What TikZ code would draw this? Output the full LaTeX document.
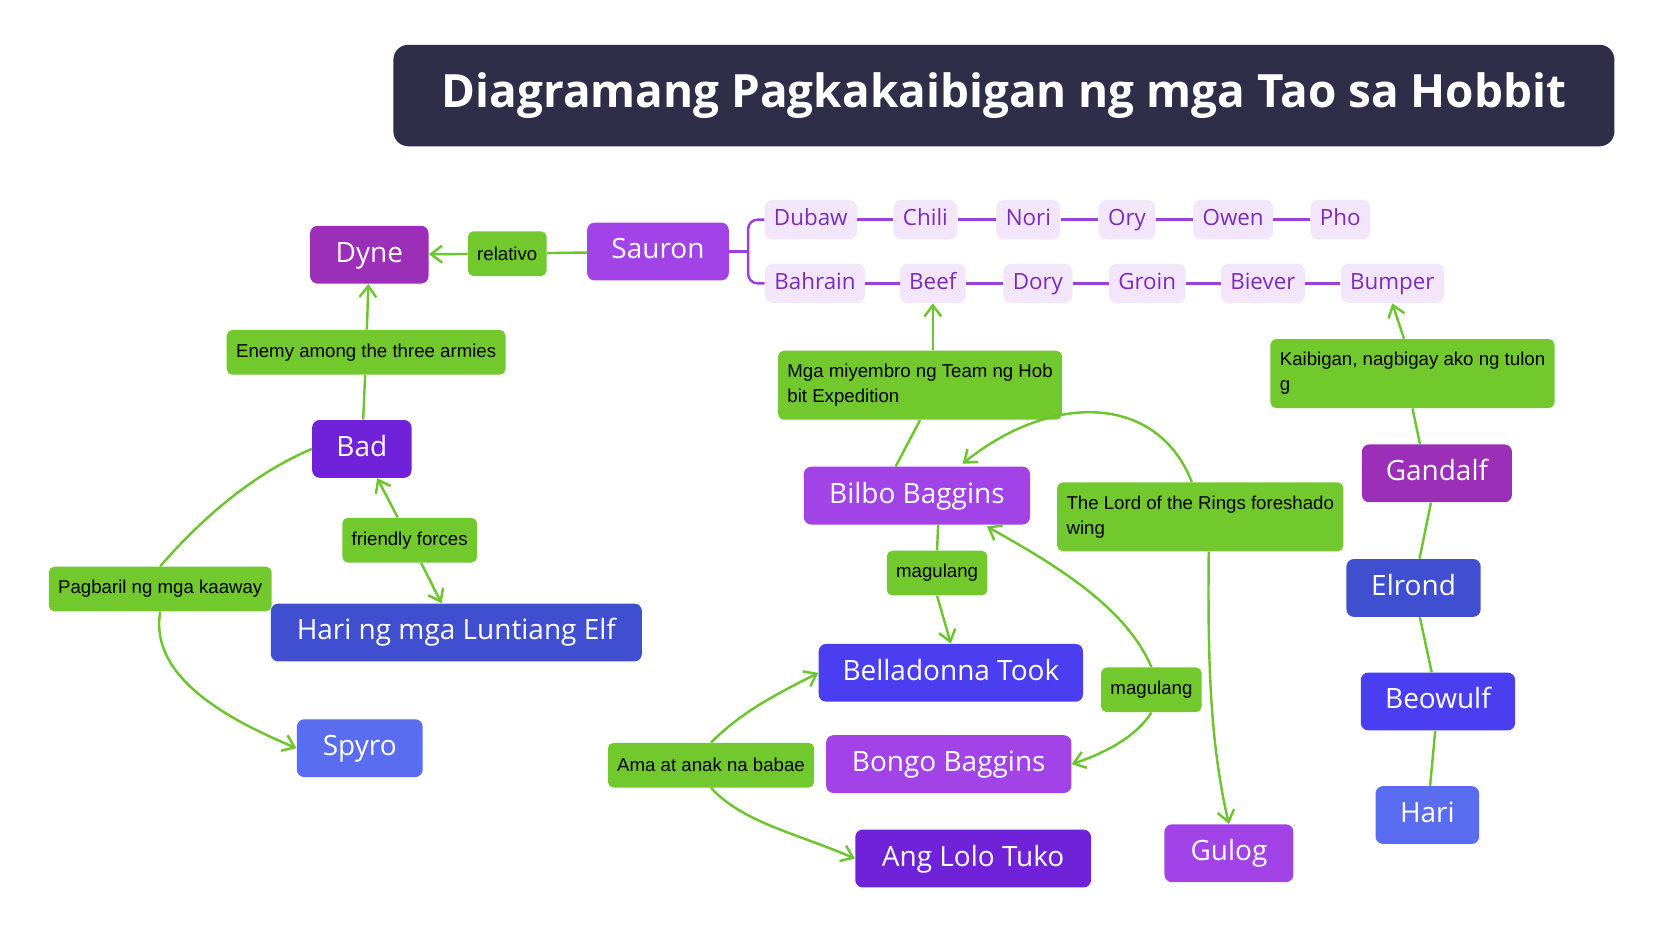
\documentclass[tikz,border=0pt]{standalone}
\usepackage{fontspec}
\setmainfont{Open Sans}
\newfontfamily\labelfont{Liberation Sans}
\usetikzlibrary{arrows.meta}
\definecolor{titlebg}{HTML}{2E2E48}
\definecolor{linkgreen}{HTML}{6CC52E}
\definecolor{labelgreen}{HTML}{72C92E}
\definecolor{magentap}{HTML}{9B2FB8}
\definecolor{lightp}{HTML}{A243E8}
\definecolor{deepp}{HTML}{6F22D8}
\definecolor{royal}{HTML}{3F4FD0}
\definecolor{indigo}{HTML}{4A3EF0}
\definecolor{skyb}{HTML}{5A6CF0}
\definecolor{lavender}{HTML}{F3E6FB}
\definecolor{lavtext}{HTML}{7A2DB8}
\definecolor{lavline}{HTML}{9B40E0}
\tikzset{
  person/.style={rounded corners=4pt, text=white, font=\fontsize{15}{18}\selectfont,
    minimum height=31pt, inner sep=0pt, text height=11pt, text depth=3pt},
  member/.style={rounded corners=4pt, fill=lavender, text=lavtext,
    font=\fontsize{12}{14}\selectfont, minimum height=21pt, inner xsep=5pt,
    text height=9pt, text depth=2.5pt},
  tag/.style={rounded corners=3pt, fill=labelgreen, text=black,
    font=\labelfont\fontsize{10}{13.5}\selectfont, minimum height=24pt, inner xsep=5pt},
  link/.style={linkgreen, line width=1.3pt},
  arr/.style={link, -{Straight Barb[length=6pt,width=9pt]}},
  chain/.style={lavline, line width=1.3pt}
}
\begin{document}
\begin{tikzpicture}[x=0.02cm, y=-0.02cm]
\useasboundingbox (0,0) rectangle (1568,894);
\fill[white] (0,0) rectangle (1568,894);

% title
\node[fill=titlebg, rounded corners=8pt, minimum width=1155*0.567pt, minimum height=96*0.567pt,
  text=white, font=\bfseries\fontsize{24.6}{28}\selectfont] (title) at (946,90)
  {Diagramang Pagkakaibigan ng mga Tao sa Hobbit};

% people
\node[person, fill=magentap, minimum width=112*0.567pt] (dyne) at (348,240) {Dyne};
\node[person, fill=lightp, minimum width=134*0.567pt] (sauron) at (620,237) {Sauron};
\node[person, fill=deepp, minimum width=94*0.567pt] (bad) at (341,423) {Bad};
\node[person, fill=royal, minimum width=351*0.567pt] (elfking) at (430,596) {Hari ng mga Luntiang Elf};
\node[person, fill=skyb, minimum width=119*0.567pt] (spyro) at (339,705) {Spyro};
\node[person, fill=lightp, minimum width=214*0.567pt] (bilbo) at (864,467) {Bilbo Baggins};
\node[person, fill=indigo, minimum width=250*0.567pt] (belladonna) at (896,634) {Belladonna Took};
\node[person, fill=lightp, minimum width=232*0.567pt] (bongo) at (894,720) {Bongo Baggins};
\node[person, fill=deepp, minimum width=223*0.567pt] (tuko) at (917,809) {Ang Lolo Tuko};
\node[person, fill=lightp, minimum width=122*0.567pt] (gulog) at (1158,804) {Gulog};
\node[person, fill=magentap, minimum width=142*0.567pt] (gandalf) at (1354,446) {Gandalf};
\node[person, fill=royal, minimum width=127*0.567pt] (elrond) at (1332,554) {Elrond};
\node[person, fill=indigo, minimum width=146*0.567pt] (beowulf) at (1355,661) {Beowulf};
\node[person, fill=skyb, minimum width=98*0.567pt] (hari) at (1345,768) {Hari};

% expedition members
\node[member] (dubaw) at (764,207) {Dubaw};
\node[member] (chili) at (872,207) {Chili};
\node[member] (nori) at (969,207) {Nori};
\node[member] (ory) at (1062,207) {Ory};
\node[member] (owen) at (1162,207) {Owen};
\node[member] (pho) at (1263,207) {Pho};
\node[member] (bahrain) at (768,267) {Bahrain};
\node[member] (beef) at (879,267) {Beef};
\node[member] (dory) at (978,267) {Dory};
\node[member] (groin) at (1081,267) {Groin};
\node[member] (biever) at (1190,267) {Biever};
\node[member] (bumper) at (1312,267) {Bumper};
\foreach \a/\b in {dubaw/chili, chili/nori, nori/ory, ory/owen, owen/pho,
  bahrain/beef, beef/dory, dory/groin, groin/biever, biever/bumper}
  \draw[chain] (\a) -- (\b);
\draw[chain, rounded corners=5pt] (dubaw.west) -| (705,237) |- (bahrain.west);
\draw[chain] (sauron.east) -- (705,237);

% relation labels
\node[tag] (relativo) at (478,239) {relativo};
\node[tag] (enemy) at (345,332) {Enemy among the three armies};
\node[tag] (friendly) at (386,509) {friendly forces};
\node[tag] (pagbaril) at (151,555) {Pagbaril ng mga kaaway};
\node[tag, align=left, minimum height=37pt] (team) at (867,363) {Mga miyembro ng Team ng Hob\\bit Expedition};
\node[tag] (magulang1) at (883,540) {magulang};
\node[tag] (magulang2) at (1085,650) {magulang};
\node[tag] (ama) at (670,721) {Ama at anak na babae};
\node[tag, align=left, minimum height=37pt] (lotr) at (1131,487) {The Lord of the Rings foreshado\\wing};
\node[tag, align=left, minimum height=37pt] (kaibigan) at (1331,352) {Kaibigan, nagbigay ako ng tulon\\g};

% connectors
\draw[link] (sauron) -- (relativo);
\draw[arr] (relativo) -- (dyne);
\draw[link] (bad) -- (enemy);
\draw[arr] (enemy) -- (dyne);
\draw[arr] (friendly) -- (bad);
\draw[arr] (friendly) -- (elfking);
\draw[link] (bad.west) .. controls (230,450) and (180,500) .. (pagbaril.north);
\draw[arr] (pagbaril.south) .. controls (140,640) and (220,680) .. (spyro.west);
\draw[link] (bilbo.north) ++(-20,0) -- (team.south);
\draw[arr] (team.north) ++(12,0) -- (beef.south);
\draw[arr] (lotr.north) ++(-8,0) .. controls (1090,370) and (990,370) .. (907,437);
\draw[arr] (lotr.south) ++(8,0) .. controls (1138,620) and (1140,700) .. (gulog.north);
\draw[link] (bilbo.south) ++(20,0) -- (magulang1.north);
\draw[arr] (magulang1.south) -- (belladonna.north);
\draw[arr] (magulang2.north) .. controls (1060,570) and (990,530) .. (930,496);
\draw[arr] (magulang2.south) .. controls (1070,695) and (1040,710) .. (bongo.east);
\draw[arr] (ama.north) .. controls (700,670) and (730,655) .. (belladonna.west);
\draw[arr] (ama.south) .. controls (700,775) and (750,785) .. (tuko.west);
\draw[link] (gandalf.north) ++(-16,0) -- (kaibigan.south);
\draw[arr] (kaibigan.north) ++(-8,0) -- (bumper.south);
\draw[link] (gandalf) -- (elrond);
\draw[link] (elrond) -- (beowulf);
\draw[link] (beowulf) -- (hari);
\end{tikzpicture}
\end{document}
